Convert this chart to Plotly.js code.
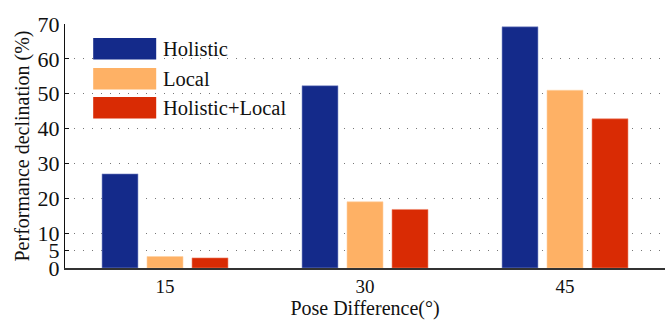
<!DOCTYPE html>
<html lang="en">
<head>
    <meta charset="UTF-8">
    <title>Performance declination vs pose difference</title>
    <script src="https://cdn.plot.ly/plotly-3.0.1.min.js"></script>
    <style>
        body { margin: 0; background: white; }
        #plot-area { width: 665px; height: 322px; }
    </style>
</head>
<body>
    <div id="plot-area"></div>
    <script>
        // data
        const poseDiffs = ['15', '30', '45'];
        const seriesNames = ['Holistic', 'Local', 'Holistic+Local'];
        const holistic = [27, 52.3, 69.2];
        const local = [3.3, 19, 51];
        const holisticLocal = [2.9, 16.8, 42.8];
        const yTicks = [0, 5, 10, 20, 30, 40, 50, 60, 70];

        const colors = ['#142a8a', '#feb165', '#d92b04'];
        const edges = ['#8f9bd0', '#ffd1a3', '#f08a6e'];
        const allValues = [holistic, local, holisticLocal];

        const serif = 'Times New Roman';

        const traces = allValues.map((vals, i) => ({
            type: 'bar',
            name: seriesNames[i],
            x: poseDiffs,
            y: vals,
            marker: { color: colors[i], line: { color: edges[i], width: 0.6 } },
            showlegend: false,
            hoverinfo: 'y'
        }));

        // hand-made legend with large swatches, like the original
        const legendShapes = [];
        const legendNotes = [];
        const swTop = [0.943, 0.820, 0.701];
        const swH = 0.088;
        seriesNames.forEach((name, i) => {
            legendShapes.push({
                type: 'rect', xref: 'paper', yref: 'paper',
                x0: 0.047, x1: 0.152, y0: swTop[i] - swH, y1: swTop[i],
                fillcolor: colors[i], line: { width: 0 }
            });
            legendNotes.push({
                xref: 'paper', yref: 'paper', x: 0.160, y: swTop[i] - swH / 2,
                xanchor: 'left', yanchor: 'middle', showarrow: false,
                text: name, font: { family: serif, size: 20.5, color: '#111' }
            });
        });

        const layout = {
            width: 665,
            height: 322,
            margin: { l: 65, r: 0, t: 24, b: 54 },
            paper_bgcolor: 'white',
            plot_bgcolor: 'white',
            barmode: 'group',
            bargap: 0.325,
            bargroupgap: 0.2,
            font: { family: serif, color: '#111' },
            xaxis: {
                type: 'category',
                range: [-0.5, 2.5],
                showgrid: false,
                showline: true,
                linecolor: '#333',
                linewidth: 1.5,
                ticks: '',
                tickfont: { family: serif, size: 19, color: '#111' },
                title: { text: 'Pose Difference(°)', font: { family: serif, size: 20, color: '#111' }, standoff: 4 }
            },
            yaxis: {
                range: [0, 70],
                tickvals: yTicks,
                showgrid: true,
                gridcolor: '#777',
                gridwidth: 1,
                griddash: '1px,8px',
                zeroline: false,
                showline: true,
                linecolor: '#111',
                linewidth: 1,
                ticks: 'inside',
                ticklen: 4,
                tickcolor: '#111',
                tickfont: { family: serif, size: 22, color: '#111' },
                title: { text: 'Performance declination (%)', font: { family: serif, size: 20, color: '#111' }, standoff: 2 }
            },
            shapes: legendShapes,
            annotations: legendNotes
        };

        Plotly.newPlot('plot-area', traces, layout, { displayModeBar: false });
    </script>
</body>
</html>
